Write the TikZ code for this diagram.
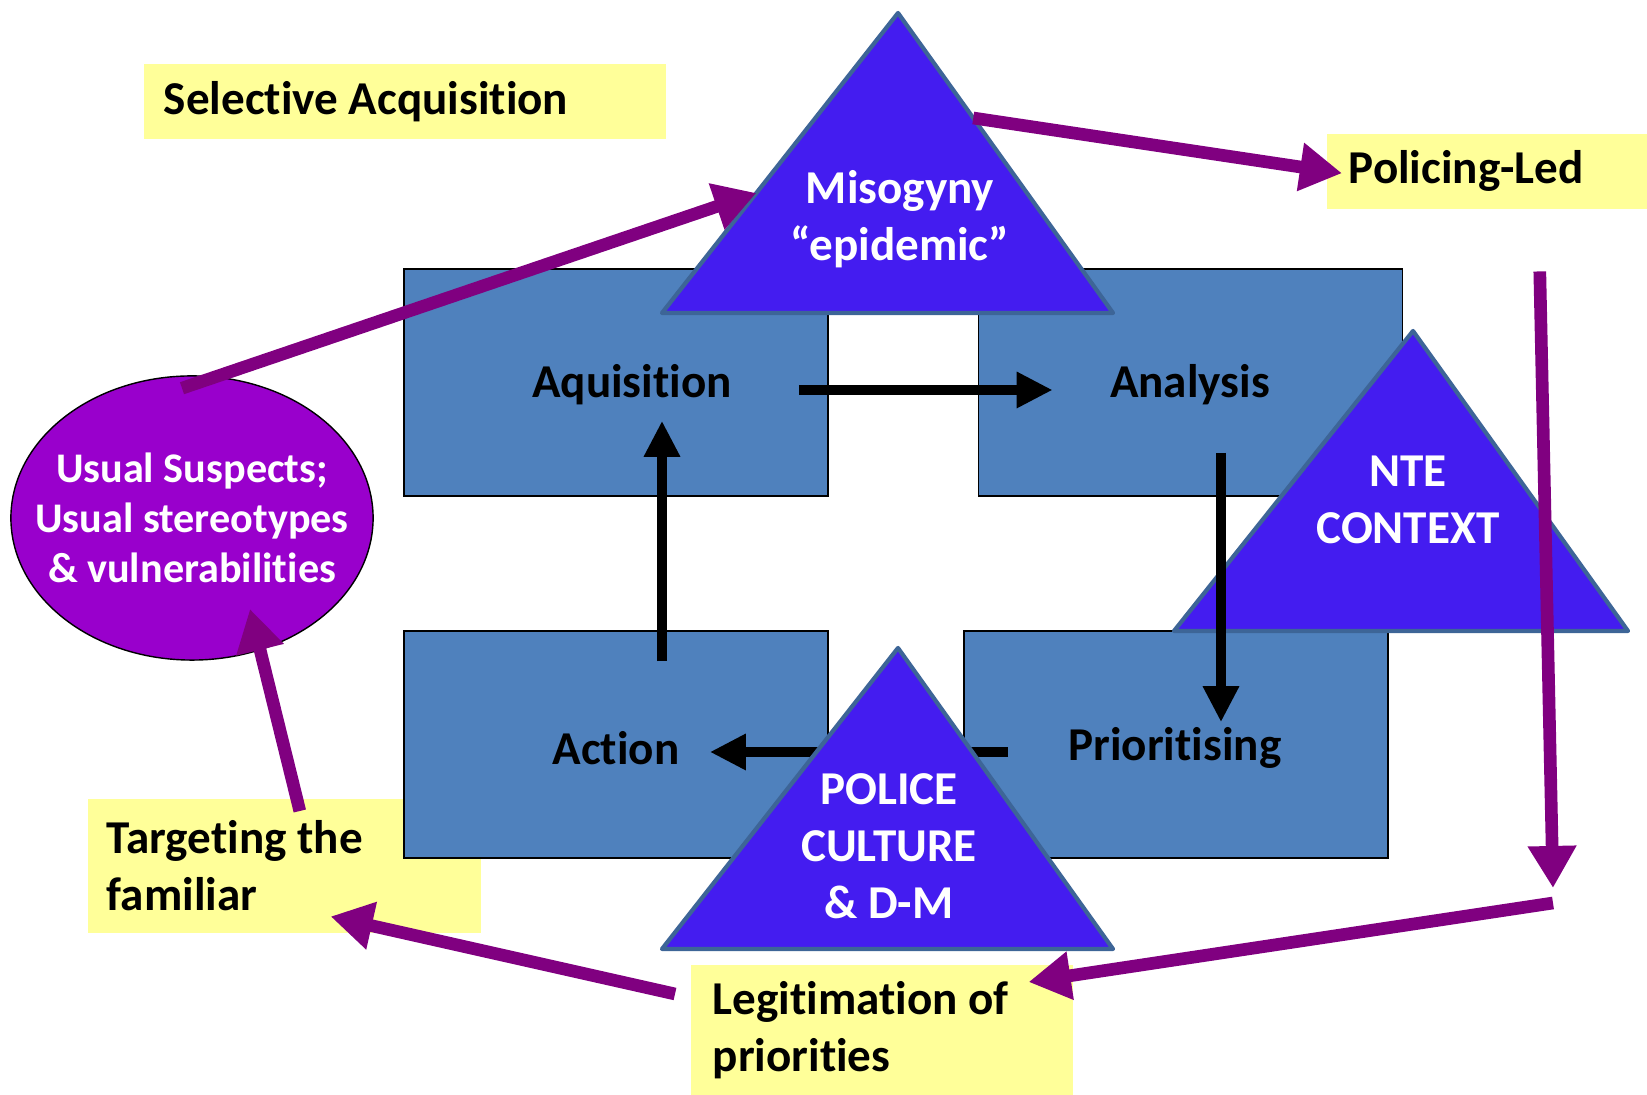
\documentclass[tikz,border=0pt]{standalone}
\usepackage{fontspec}
\setmainfont{Carlito}[Ligatures=NoCommon]
\usetikzlibrary{arrows.meta,shapes.geometric,calc}
\definecolor{boxblue}{HTML}{4F81BD}
\definecolor{triblue}{HTML}{441CF0}
\definecolor{triedge}{HTML}{3D6597}
\definecolor{notey}{HTML}{FFFF99}
\definecolor{plum}{HTML}{800080}
\definecolor{suspect}{HTML}{9900CC}

\begin{document}
\begin{tikzpicture}[x=0.01cm, y=-0.01cm,
    every node/.style={font=\fontsize{13.4}{16.2}\selectfont\bfseries},
    stage/.style={draw=black, fill=boxblue, minimum width=4.24cm, minimum height=2.27cm, inner sep=0pt},
    note/.style={fill=notey, anchor=north west, align=flush left, inner ysep=0pt},
    wedge/.style={draw=triedge, line width=1.2pt, fill=triblue, line join=round},
    flow/.style={line width=2.7pt, -{Triangle[length=0.36cm, width=0.34cm]}},
    feed/.style={plum, line width=3.6pt, -{Triangle[length=0.42cm, width=0.46cm]}}]
    \useasboundingbox (0,0) rectangle (1647,1095);

    % Yellow notes
    \node[note, text width=4.82cm, inner xsep=0.2cm, minimum height=0.75cm] (selacq) at (143,63) {Selective Acquisition};
    \node[note, text width=2.77cm, inner xsep=0.22cm, minimum height=0.75cm] (policing) at (1326,133) {Policing-Led};
    \node[note, text width=3.55cm, inner xsep=0.19cm, minimum height=1.34cm] (target) at (87,798) {Targeting the\\familiar};
    \node[note, text width=3.38cm, inner xsep=0.22cm, minimum height=1.31cm] (legit) at (690,964) {Legitimation of\\priorities};

    % Cycle boxes
    \node[stage] (aqbox) at (616,382.5) {};
    \node[stage] (anbox) at (1190.5,382.5) {};
    \node[stage] (acbox) at (616,744.5) {};
    \node[stage] (prbox) at (1176,744.5) {};
    \node (aq) at (632,385) {Aquisition};
    \node (an) at (1190,385) {Analysis};
    \node (ac) at (616,748) {Action};
    \node (pr) at (1175,748) {Prioritising};

    % Usual suspects
    \node[ellipse, draw=black, fill=suspect, minimum width=3.62cm, minimum height=2.84cm, inner sep=0pt] (usual) at (192,518) {};
    \node[text=white, align=center, font=\fontsize{12}{14.3}\selectfont\bfseries] (usualtext) at (usual.center) {Usual Suspects;\\Usual stereotypes\\\& vulnerabilities};

    % Arrow under the police triangle
    \draw[flow] ($(prbox.west)+(45,7.5)$) -- ($(acbox.east)+(-119,7.5)$);

    % Triangles
    \coordinate (mis-top) at (898,13);
    \coordinate (mis-l) at (662,313);
    \coordinate (mis-r) at (1113,313);
    \draw[wedge] (mis-top) -- (mis-l) -- (mis-r) -- cycle;
    \node[text=white, align=center] (mis) at (900,219) {Misogyny\\“epidemic”};

    \coordinate (nte-top) at (1413,331);
    \coordinate (nte-l) at (1174,631);
    \coordinate (nte-r) at (1628,631);
    \draw[wedge] (nte-top) -- (nte-l) -- (nte-r) -- cycle;
    \node[text=white, align=center] (nte) at (1408,500) {NTE\\CONTEXT};

    \coordinate (pol-top) at (898,648);
    \coordinate (pol-l) at (662,949);
    \coordinate (pol-r) at (1113,949);
    \draw[wedge] (pol-top) -- (pol-l) -- (pol-r) -- cycle;
    \node[text=white, align=center] (pol) at (889,846) {POLICE\\CULTURE\\\& D-M};

    % Cycle arrows
    \draw[flow] ($(aqbox.east)+(-30,7.5)$) -- ($(anbox.west)+(75,7.5)$);
    \draw[flow] ($(anbox.south)+(30.5,-44)$) -- ($(prbox.north)+(45,92)$);
    \draw[flow] ($(acbox.north)+(46,31)$) -- ($(aqbox.south)+(46,-76)$);

    % Feedback loop
    \coordinate (turn) at (1553,895);
    \draw[feed] ($(usual.north)+(-10,13)$) -- ($(mis-l)!0.4!(mis-top)$);
    \draw[feed] ($(mis-top)!0.35!(mis-r)$) -- ($(policing.west)+(16,2)$);
    \draw[feed] ($(policing.south)+(52.5,62)$) -- ($(turn)+(0,-7)$);
    \draw[feed] ($(turn)+(0,8)$) -- ($(legit.north east)+(-45,18)$);
    \draw[feed] ($(legit.north west)+(-15,30)$) -- ($(target.south east)+(-151,-17)$);
    \draw[feed] ($(target.north)+(15.5,13)$) -- ($(usual.center)+(58,91)$);
\end{tikzpicture}
\end{document}
